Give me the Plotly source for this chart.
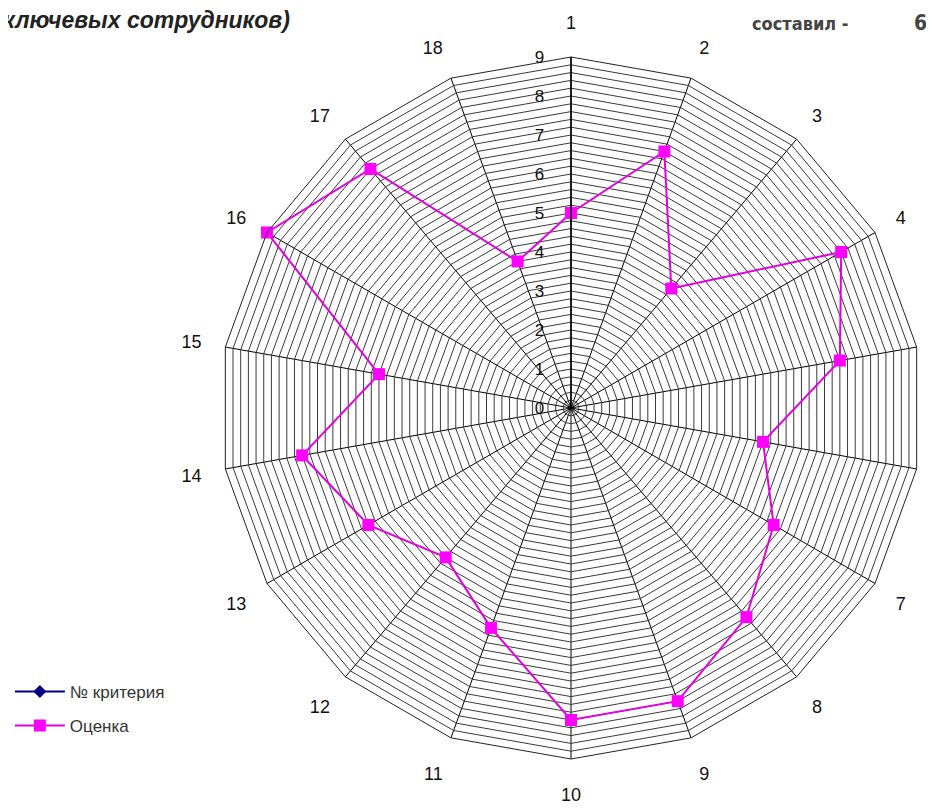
import plotly.graph_objects as go

categories = [str(i) for i in range(1, 19)]
scores = [5, 7, 4, 8, 7, 5, 6, 7, 8, 8, 6, 5, 6, 7, 5, 9, 8, 4]
criteria_marker = [0] * 18
series_names = ["№ критерия", "Оценка"]
radial_tickvals = [round(i * 0.2, 1) for i in range(0, 46)]
radial_ticktext = [str(int(v)) if abs(v - round(v)) < 1e-9 else "" for v in radial_tickvals]

W, H = 934, 808
cx, cy, R = 563, 400, 351

fig = go.Figure()
fig.add_trace(go.Scatterpolar(
    r=criteria_marker + [criteria_marker[0]],
    theta=categories + [categories[0]],
    mode="lines+markers",
    name=series_names[0],
    legend="legend",
    showlegend=True,
    line=dict(color="#000080", width=2),
    marker=dict(symbol="diamond", size=10, color="#000080"),
))
fig.add_trace(go.Scatterpolar(
    r=scores + [scores[0]],
    theta=categories + [categories[0]],
    mode="lines+markers",
    name=series_names[1],
    legend="legend2",
    showlegend=True,
    line=dict(color="#E000E0", width=2),
    marker=dict(symbol="square", size=12, color="#FF00FF"),
))

legend_common = dict(
    xanchor="left", yanchor="middle",
    font=dict(size=17, color="#333", family="Liberation Sans, Arial, sans-serif"),
    bgcolor="rgba(0,0,0,0)",
    itemwidth=50,
    visible=True,
)

fig.update_layout(
    width=W, height=H,
    showlegend=True,
    margin=dict(l=0, r=0, t=0, b=0),
    paper_bgcolor="white",
    plot_bgcolor="white",
    font=dict(family="Liberation Sans, Arial, sans-serif", color="#111"),
    polar=dict(
        domain=dict(x=[(cx - R) / W, (cx + R) / W], y=[(H - cy - R) / H, (H - cy + R) / H]),
        bgcolor="white",
        gridshape="linear",
        angularaxis=dict(
            type="category",
            categoryarray=categories,
            direction="clockwise",
            rotation=90,
            showline=True,
            linecolor="#222",
            linewidth=1,
            gridcolor="#000",
            gridwidth=1,
            ticks="outside",
            ticklen=20,
            tickcolor="rgba(0,0,0,0)",
            tickfont=dict(size=18, color="#111", family="Liberation Sans, Arial, sans-serif"),
        ),
        radialaxis=dict(
            range=[0, 9],
            angle=90,
            tickangle=90,
            side="counterclockwise",
            tickmode="array",
            tickvals=radial_tickvals,
            ticktext=radial_ticktext,
            showline=True,
            linecolor="#000",
            linewidth=1.5,
            gridcolor="#3a3a3a",
            gridwidth=1,
            ticks="outside",
            ticklen=20,
            tickcolor="rgba(0,0,0,0)",
            tickfont=dict(size=17, color="#111"),
        ),
    ),
    legend=dict(x=0.002, y=1 - 684 / H, **legend_common),
    legend2=dict(x=0.002, y=1 - 718 / H, **legend_common),
    annotations=[
        dict(text="<b><i>ключевых сотрудников)</i></b>", x=284 / W, y=1 - 12 / H,
             xref="paper", yref="paper", xanchor="right", yanchor="middle",
             showarrow=False, font=dict(size=23, color="#222", family="Liberation Sans, Arial, sans-serif")),
        dict(text="<b>составил -</b>", x=842 / W, y=1 - 15 / H,
             xref="paper", yref="paper", xanchor="right", yanchor="middle",
             showarrow=False, font=dict(size=18, color="#444", family="DejaVu Sans Condensed, Liberation Sans Narrow, sans-serif")),
        dict(text="<b>6</b>", x=904 / W, y=1 - 15 / H,
             xref="paper", yref="paper", xanchor="left", yanchor="middle",
             showarrow=False, font=dict(size=21, color="#444", family="DejaVu Sans Condensed, Liberation Sans Narrow, sans-serif")),
    ],
)

fig.write_html("out.html")
